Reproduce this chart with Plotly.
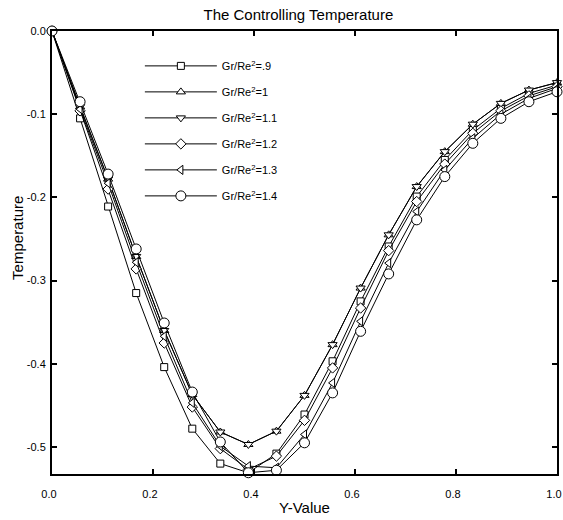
import plotly.graph_objects as go

# x positions (Y-Value)
y_value = [0.0, 0.0556, 0.1111, 0.1667, 0.2222, 0.2778, 0.3333, 0.3889, 0.4444, 0.5,
           0.5556, 0.6111, 0.6667, 0.7222, 0.7778, 0.8333, 0.8889, 0.9444, 1.0]

temp_09 = [0, -0.105, -0.211, -0.315, -0.404, -0.478, -0.520, -0.531, -0.508, -0.461,
           -0.397, -0.325, -0.259, -0.199, -0.155, -0.119, -0.093, -0.075, -0.065]
temp_10 = [0, -0.091, -0.178, -0.271, -0.360, -0.437, -0.482, -0.497, -0.481, -0.438,
           -0.377, -0.309, -0.245, -0.187, -0.145, -0.112, -0.087, -0.071, -0.062]
temp_11 = [0, -0.091, -0.178, -0.271, -0.360, -0.437, -0.482, -0.497, -0.481, -0.438,
           -0.377, -0.309, -0.245, -0.187, -0.145, -0.112, -0.087, -0.071, -0.062]
temp_12 = [0, -0.096, -0.190, -0.286, -0.375, -0.452, -0.502, -0.527, -0.511, -0.468,
           -0.405, -0.333, -0.264, -0.205, -0.160, -0.123, -0.096, -0.078, -0.067]
temp_13 = [0, -0.094, -0.183, -0.278, -0.367, -0.447, -0.499, -0.523, -0.525, -0.485,
           -0.423, -0.349, -0.279, -0.217, -0.167, -0.129, -0.100, -0.081, -0.069]
temp_14 = [0, -0.085, -0.172, -0.262, -0.351, -0.434, -0.494, -0.531, -0.528, -0.495,
           -0.435, -0.361, -0.292, -0.227, -0.175, -0.135, -0.105, -0.085, -0.073]

series_names = ["Gr/Re<sup>2</sup>=.9", "Gr/Re<sup>2</sup>=1", "Gr/Re<sup>2</sup>=1.1",
                "Gr/Re<sup>2</sup>=1.2", "Gr/Re<sup>2</sup>=1.3", "Gr/Re<sup>2</sup>=1.4"]
series_values = [temp_09, temp_10, temp_11, temp_12, temp_13, temp_14]
symbols = ["square", "triangle-up", "triangle-down", "diamond", "triangle-left", "circle"]
sizes = [7, 8, 8, 8, 8, 10]

x_tickvals = [0.0, 0.2, 0.4, 0.6, 0.8, 1.0]
x_ticktext = ["0.0", "0.2", "0.4", "0.6", "0.8", "1.0"]
y_tickvals = [0.0, -0.1, -0.2, -0.3, -0.4, -0.5]
y_ticktext = ["0.0", "-0.1", "-0.2", "-0.3", "-0.4", "-0.5"]

FONT = "Liberation Sans, Arial, sans-serif"

fig = go.Figure()
for i, (name, vals, sym, sz) in enumerate(zip(series_names, series_values, symbols, sizes)):
    fig.add_trace(go.Scatter(
        x=y_value, y=vals, name=name, mode="lines+markers",
        line=dict(color="black", width=1),
        marker=dict(symbol=sym, size=sz, color="white", line=dict(color="black", width=1)),
        cliponaxis=False, legendgroup=f"g{i}",
    ))

fig.update_layout(
    width=563, height=520,
    margin=dict(l=52, r=6, t=31, b=46),
    paper_bgcolor="white", plot_bgcolor="white",
    font=dict(family=FONT, color="black", size=11),
    title=dict(text="The Controlling Temperature", x=0.53, xanchor="center",
               y=0.971, yanchor="middle", font=dict(size=15, family=FONT)),
    showlegend=True,
    legend=dict(x=0.174, xanchor="left", y=0.954, yanchor="top",
                bgcolor="rgba(0,0,0,0)", font=dict(size=11, family=FONT),
                tracegroupgap=7, itemwidth=72),
    annotations=[dict(text="Temperature", textangle=-90, xref="paper", yref="paper",
                      x=-0.0673, y=0.533, xanchor="center", yanchor="middle",
                      showarrow=False, font=dict(size=15, family=FONT))],
)
fig.update_xaxes(
    range=[0, 1], tickvals=x_tickvals, ticktext=x_ticktext, automargin=False,
    showline=True, linecolor="black", linewidth=2, mirror="ticks",
    ticks="inside", ticklen=5, tickwidth=1.5, tickcolor="black",
    showgrid=False, zeroline=False, ticklabelstandoff=9, ticklabelshift=-3,
    title=dict(text="Y-Value", font=dict(size=15, family=FONT), standoff=3),
)
fig.update_yaxes(
    range=[-0.5325, 0], tickvals=y_tickvals, ticktext=y_ticktext, automargin=False,
    showline=True, linecolor="black", linewidth=2, mirror="ticks",
    ticks="inside", ticklen=5, tickwidth=1.5, tickcolor="black",
    showgrid=False, zeroline=False, ticklabelstandoff=2,
)

fig.write_html(
    "out.html",
    config={"displayModeBar": False},
    post_script="document.body.style.margin='0';document.body.style.overflow='hidden';",
)
